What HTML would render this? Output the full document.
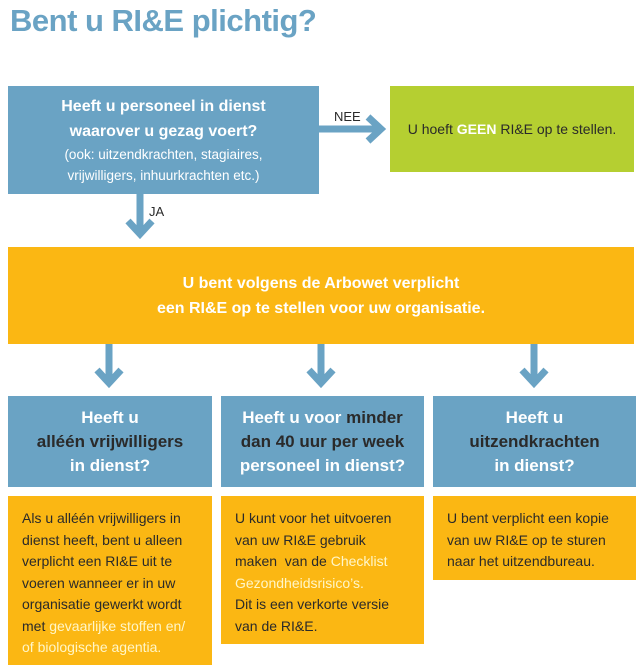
<!DOCTYPE html>
<html><head><meta charset="utf-8"><style>
body{margin:0;width:642px;height:671px;background:#fff;position:relative;overflow:hidden;font-family:"Liberation Sans Narrow","Liberation Sans",sans-serif;}
.b{position:absolute;box-sizing:border-box;display:flex;flex-direction:column;justify-content:center;align-items:center;text-align:center;}
.blue{background:#6aa3c4;color:#fff;font-weight:bold;}
.or{background:#fbb713;}
.t{position:absolute;left:10px;top:3px;font-size:31px;font-weight:bold;color:#6aa3c4;font-family:"Liberation Sans",sans-serif;letter-spacing:-0.5px;}
.q{font-size:17px;line-height:24px;}
.d{color:#2a2a2a;}
.a{position:absolute;box-sizing:border-box;color:#2a2a2a;font-size:14px;line-height:21.5px;padding:12px 6px 0 14px;white-space:nowrap;}
.w{color:#fff6c8;}
</style></head><body>
<div class="t">Bent u RI&amp;E plichtig?</div>
<div class="b blue" style="left:8px;top:86px;width:311px;height:108px;">
<div style="font-size:16px;line-height:25px;">Heeft u personeel in dienst<br>waarover u gezag voert?</div>
<div style="font-weight:normal;font-size:13.5px;line-height:21px;">(ook: uitzendkrachten, stagiaires,<br>vrijwilligers, inhuurkrachten etc.)</div>
</div>
<div class="b" style="left:390px;top:86px;width:244px;height:86px;background:#b5cf31;color:#2a2a2a;font-size:14px;">
<div>U hoeft <b style="color:#fff">GEEN</b> RI&amp;E op te stellen.</div></div>
<svg style="position:absolute;left:0;top:0" width="642" height="671">
<g stroke="#6aa3c4" stroke-width="7" fill="none">
<line x1="319" y1="129" x2="380" y2="129"/><polyline points="368,117 381,129 368,141"/>
<line x1="140" y1="194" x2="140" y2="233"/><polyline points="128,221 140,234 152,221"/>
<line x1="109" y1="344" x2="109" y2="382"/><polyline points="97,370 109,383 121,370"/>
<line x1="321" y1="344" x2="321" y2="382"/><polyline points="309,370 321,383 333,370"/>
<line x1="534" y1="344" x2="534" y2="382"/><polyline points="522,370 534,383 546,370"/>
</g>
<text x="334" y="121" font-size="13" fill="#2a2a2a" font-family="Liberation Sans Narrow, Liberation Sans, sans-serif">NEE</text>
<text x="149" y="216" font-size="13" fill="#2a2a2a" font-family="Liberation Sans Narrow, Liberation Sans, sans-serif">JA</text>
</svg>
<div class="b or" style="left:8px;top:247px;width:626px;height:97px;color:#fff;font-weight:bold;font-size:16px;line-height:25px;">
<div>U bent volgens de Arbowet verplicht<br>een RI&amp;E op te stellen voor uw organisatie.</div></div>
<div class="b blue q" style="left:8px;top:396px;width:204px;height:91px;"><div>Heeft u<br><span class="d">alléén vrijwilligers</span><br>in dienst?</div></div>
<div class="b blue q" style="left:221px;top:396px;width:203px;height:91px;"><div>Heeft u voor <span class="d">minder<br>dan 40 uur per week</span><br>personeel in dienst?</div></div>
<div class="b blue q" style="left:433px;top:396px;width:203px;height:91px;"><div>Heeft u<br><span class="d">uitzendkrachten</span><br>in dienst?</div></div>
<div class="a or" style="left:8px;top:496px;width:204px;height:169px;">Als u alléén vrijwilligers in<br>dienst heeft, bent u alleen<br>verplicht een RI&amp;E uit te<br>voeren wanneer er in uw<br>organisatie gewerkt wordt<br>met <span class="w">gevaarlijke stoffen en/<br>of biologische agentia.</span></div>
<div class="a or" style="left:221px;top:496px;width:203px;height:148px;">U kunt voor het uitvoeren<br>van uw RI&amp;E gebruik<br>maken&nbsp; van de <span class="w">Checklist<br>Gezondheidsrisico’s.</span><br>Dit is een verkorte versie<br>van de RI&amp;E.</div>
<div class="a or" style="left:433px;top:496px;width:203px;height:84px;">U bent verplicht een kopie<br>van uw RI&amp;E op te sturen<br>naar het uitzendbureau.</div>
</body></html>
